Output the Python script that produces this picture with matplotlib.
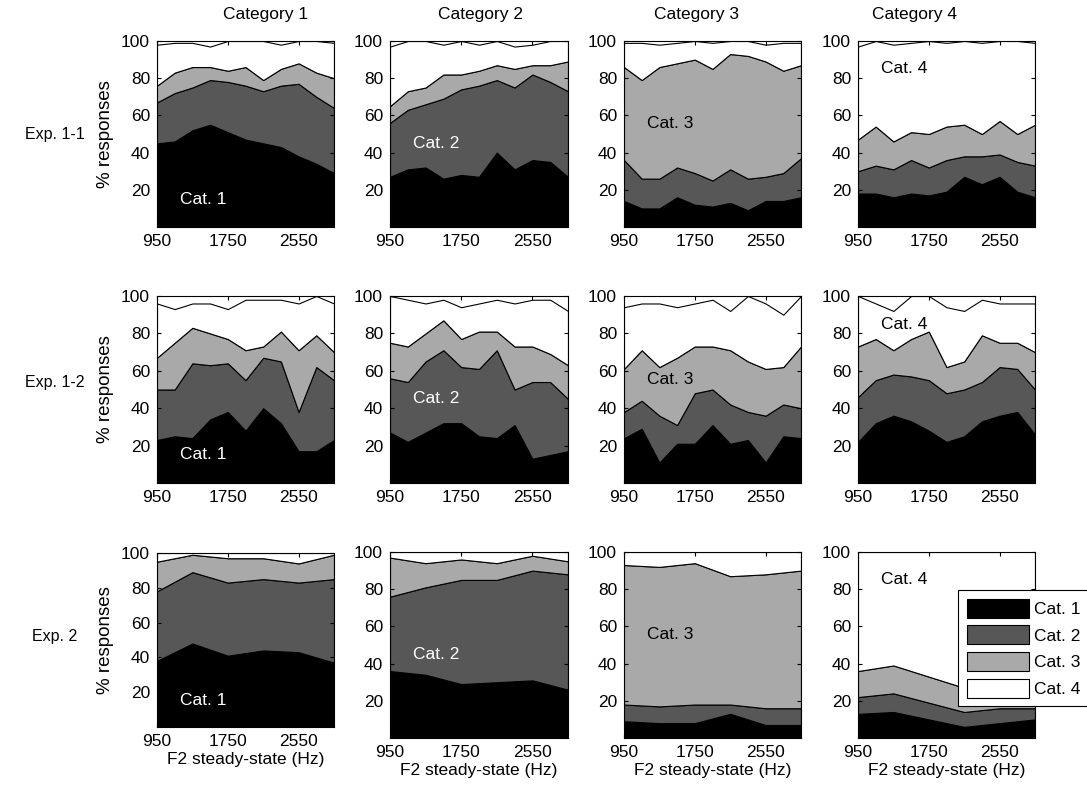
import numpy as np
import matplotlib.pyplot as plt
from matplotlib.patches import Patch

plt.rcParams['font.family'] = ['Liberation Sans', 'DejaVu Sans']
plt.rcParams['font.size'] = 12.5

# F2 steady-state values (Hz)
x_exp1 = [950, 1150, 1350, 1550, 1750, 1950, 2150, 2350, 2550, 2750, 2950]
x_exp2 = [950, 1350, 1750, 2150, 2550, 2950]

col_titles = ['Category 1', 'Category 2', 'Category 3', 'Category 4']
row_titles = ['Exp. 1-1', 'Exp. 1-2', 'Exp. 2']
resp_labels = ['Cat. 1', 'Cat. 2', 'Cat. 3', 'Cat. 4']

# % responses per panel: rows are Cat. 1 .. Cat. 4
e11_c1 = [[45, 46, 52, 55, 51, 47, 45, 43, 38, 34, 29],
          [22, 26, 23, 24, 27, 29, 28, 33, 39, 36, 35],
          [9, 11, 11, 7, 6, 10, 6, 9, 11, 13, 16],
          [22, 16, 13, 11, 16, 14, 21, 13, 12, 17, 19]]
e11_c2 = [[27, 31, 32, 26, 28, 27, 40, 31, 36, 35, 27],
          [29, 32, 34, 43, 46, 49, 39, 44, 46, 43, 46],
          [9, 10, 9, 13, 8, 8, 8, 10, 5, 9, 16],
          [32, 27, 25, 16, 18, 14, 13, 12, 11, 13, 11]]
e11_c3 = [[14, 10, 10, 16, 12, 11, 13, 9, 14, 14, 16],
          [22, 16, 16, 16, 17, 14, 18, 17, 13, 15, 21],
          [50, 53, 60, 56, 61, 60, 62, 66, 62, 55, 50],
          [13, 20, 12, 11, 10, 14, 7, 8, 9, 15, 12]]
e11_c4 = [[18, 18, 16, 18, 17, 19, 27, 23, 27, 19, 16],
          [12, 15, 15, 18, 15, 17, 11, 15, 12, 16, 17],
          [17, 21, 15, 15, 18, 18, 17, 12, 18, 15, 22],
          [50, 46, 52, 48, 50, 45, 45, 49, 43, 50, 44]]

e12_c1 = [[23, 25, 24, 34, 38, 28, 40, 32, 17, 17, 23],
          [27, 25, 40, 29, 26, 27, 27, 33, 21, 45, 32],
          [17, 25, 19, 17, 13, 16, 6, 16, 33, 17, 15],
          [29, 18, 13, 16, 16, 27, 25, 17, 25, 21, 26]]
e12_c2 = [[27, 22, 27, 32, 32, 25, 24, 31, 13, 15, 17],
          [29, 32, 38, 39, 30, 36, 47, 19, 41, 39, 28],
          [19, 19, 15, 16, 15, 20, 10, 23, 19, 15, 18],
          [25, 25, 16, 11, 17, 15, 17, 23, 25, 29, 29]]
e12_c3 = [[24, 29, 11, 21, 21, 31, 21, 23, 11, 25, 24],
          [14, 15, 25, 10, 27, 19, 21, 15, 25, 17, 16],
          [23, 27, 26, 36, 25, 23, 29, 27, 25, 20, 33],
          [33, 25, 34, 27, 23, 25, 21, 35, 35, 28, 27]]
e12_c4 = [[22, 32, 36, 33, 28, 22, 25, 33, 36, 38, 26],
          [24, 23, 22, 24, 27, 26, 25, 21, 26, 23, 24],
          [27, 22, 13, 20, 26, 14, 15, 25, 13, 14, 20],
          [27, 19, 21, 23, 19, 32, 27, 19, 21, 21, 26]]

e2_c1 = [[38, 48, 41, 44, 43, 37],
         [40, 41, 42, 41, 40, 48],
         [17, 10, 14, 12, 11, 14],
         [5, 1, 3, 3, 6, 1]]
e2_c2 = [[36, 34, 29, 30, 31, 26],
         [40, 47, 56, 55, 59, 62],
         [21, 13, 11, 9, 8, 7],
         [3, 6, 4, 6, 2, 5]]
e2_c3 = [[9, 8, 8, 13, 7, 7],
         [9, 9, 10, 5, 9, 9],
         [75, 75, 76, 69, 72, 74],
         [7, 8, 6, 13, 12, 10]]
e2_c4 = [[13, 14, 10, 6, 8, 10],
         [9, 10, 9, 8, 8, 6],
         [14, 15, 14, 13, 11, 15],
         [64, 61, 67, 73, 73, 70]]

panels = [[e11_c1, e11_c2, e11_c3, e11_c4],
          [e12_c1, e12_c2, e12_c3, e12_c4],
          [e2_c1, e2_c2, e2_c3, e2_c4]]
xs = [x_exp1, x_exp1, x_exp2]

colors = ['#000000', '#575757', '#a9a9a9', '#ffffff']
label_colors = ['white', 'white', 'black', 'black']
label_y = [15, 45, 55.5, 85]

W, H = 1087, 786
fig = plt.figure(figsize=(W / 100, H / 100), dpi=100)

col_px = [(157, 334), (390, 568), (624, 801), (858, 1035)]
row_px = [(41, 227), (296, 483), (552, 738)]
title_px = [266, 480, 697, 914]
row_label_px = [134, 383, 636]

for r in range(3):
    for c in range(4):
        x0, x1 = col_px[c]
        y0, y1 = row_px[r]
        if r == 2 and c == 0:
            y0, y1 = 553, 727
        ax = fig.add_axes([x0 / W, 1 - y1 / H, (x1 - x0) / W, (y1 - y0) / H])
        ax.stackplot(xs[r], *panels[r][c], colors=colors,
                     edgecolor='black', linewidth=0.8)
        ax.set_xlim(950, 2950)
        ax.set_ylim(0, 100)
        ax.set_xticks([950, 1750, 2550])
        ax.set_yticks([20, 40, 60, 80, 100])
        ax.tick_params(direction='in', length=3, top=True, right=True,
                       labelsize=12.5, pad=5)
        for s in ax.spines.values():
            s.set_linewidth(0.8)
        ax.text(1210, label_y[c], resp_labels[c], color=label_colors[c],
                fontsize=12.5, va='center', ha='left')
        if c == 0:
            ax.set_ylabel('% responses', fontsize=13.5, labelpad=5)
        if r == 2:
            ax.set_xlabel('F2 steady-state (Hz)', fontsize=12.5, labelpad=2)

for c in range(4):
    fig.text(title_px[c] / W, 1 - 15 / H, col_titles[c], ha='center',
             va='center', fontsize=12.5)

for r in range(3):
    fig.text(55 / W, 1 - row_label_px[r] / H, row_titles[r], ha='center',
             va='center', fontsize=11.5)

handles = [Patch(facecolor=colors[i], edgecolor='black', linewidth=0.8)
           for i in range(4)]
leg = fig.legend(handles, resp_labels, loc='upper left',
                 bbox_to_anchor=(958 / W, 1 - 590 / H), borderaxespad=0,
                 fancybox=False, edgecolor='black', framealpha=1,
                 handlelength=3.6, handleheight=1.3, labelspacing=0.45,
                 borderpad=0.5, handletextpad=0.3, fontsize=12.5)
leg.get_frame().set_linewidth(0.8)

fig.savefig('out.png', dpi=100)
